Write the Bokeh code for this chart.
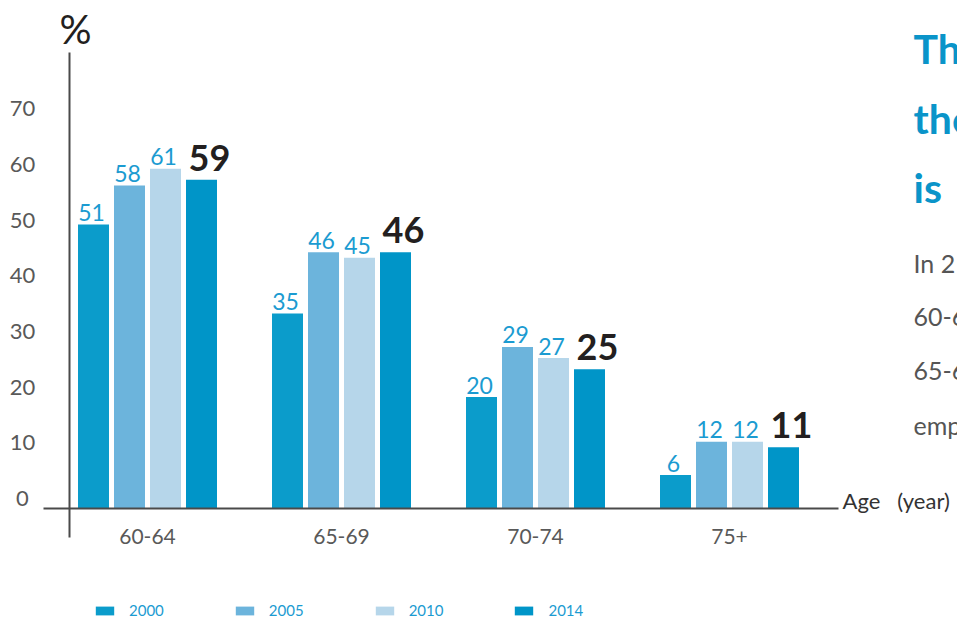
from bokeh.plotting import figure
from bokeh.models import Range1d, Legend, LegendItem
from bokeh.core.properties import value
from bokeh.embed import file_html
from bokeh.resources import INLINE

# ---- data ----
age_groups = ["60-64", "65-69", "70-74", "75+"]
years = ["2000", "2005", "2010", "2014"]
v2000 = [51, 35, 20, 6]
v2005 = [58, 46, 29, 12]
v2010 = [61, 45, 27, 12]
v2014 = [59, 46, 25, 11]
y_ticks = [0, 10, 20, 30, 40, 50, 60, 70]
heading_lines = ["The", "the", "is"]
body_lines = ["In 2", "60-6", "65-6", "emp"]
x_title = "Age\u00a0\u00a0\u00a0(year)"
y_title = "%"

# ---- styles ----
colors = ["#0b9ccb", "#6cb4dc", "#b6d6ea", "#0095c8"]
label_blue = "#1b9bd1"
dark = "#231f20"
gray = "#595959"
axis_col = "#4a4a4a"
FONT = value("Lato")

W, H = 957, 619
PX_X = 194.0          # pixels per age group
PX_Y = 5.57           # pixels per percentage point
X0_PX, Y0_PX = 147, 508   # pixel position of first group centre / zero line
x_start = -X0_PX / PX_X
x_end = x_start + W / PX_X
y_end = Y0_PX / PX_Y
y_start = y_end - H / PX_Y

p = figure(width=W, height=H, x_range=Range1d(x_start, x_end),
           y_range=Range1d(y_start, y_end), output_backend="svg",
           toolbar_location=None, min_border=0, outline_line_color=None,
           x_axis_location=None, y_axis_location=None)
p.grid.grid_line_color = None
p.background_fill_color = "white"
p.border_fill_color = "white"

pitch = 36 / PX_X
bw = 31 / PX_X
series = [v2000, v2005, v2010, v2014]
renderers = []
for i, (vals, col) in enumerate(zip(series, colors)):
    off = (i - 1.5) * pitch
    xs = [g + off for g in range(len(age_groups))]
    r = p.vbar(x=xs, top=vals, width=bw, bottom=0, fill_color=col, line_color=None)
    renderers.append(r)
    if i < 3:
        p.text(x=xs, y=vals, text=[str(v) for v in vals], text_align="center",
               text_baseline="middle", x_offset=-2, y_offset=-12,
               text_font=FONT, text_font_size="23px", text_color=label_blue)
    else:
        p.text(x=xs, y=vals, text=[str(v) for v in vals], text_align="center",
               text_baseline="middle", x_offset=8, y_offset=-22,
               text_font=FONT, text_font_style="bold", text_font_size="36px",
               text_color=dark)

# axes lines
axis_x = (69 - X0_PX) / PX_X
x_axis_left = (43 - X0_PX) / PX_X
x_axis_right = (838 - X0_PX) / PX_X
y_axis_top = (Y0_PX - 52) / PX_Y
y_axis_bottom = (Y0_PX - 537) / PX_Y
p.segment(x0=[x_axis_left], y0=[0], x1=[x_axis_right], y1=[0],
          line_color=axis_col, line_width=2)
p.segment(x0=[axis_x], y0=[y_axis_bottom], x1=[axis_x], y1=[y_axis_top],
          line_color=axis_col, line_width=2)

# y tick labels
p.text(x=[axis_x] * len(y_ticks), y=y_ticks, text=[str(t) for t in y_ticks],
       x_offset=-47, y_offset=-10, text_align="center", text_baseline="middle",
       text_font=FONT, text_font_size="22px", text_color=gray)
# category labels
p.text(x=list(range(len(age_groups))), y=[0] * len(age_groups), text=age_groups,
       y_offset=28, text_align="center", text_baseline="middle",
       text_font=FONT, text_font_size="21px", text_color=gray)
# axis titles
p.text(x=[axis_x], y=[y_axis_top], text=[y_title], x_offset=-10, y_offset=-24,
       text_align="left", text_baseline="middle", text_font=FONT,
       text_font_size="40px", text_color=dark)
p.text(x=[x_axis_right], y=[0], text=[x_title], x_offset=4, y_offset=-8,
       text_align="left", text_baseline="middle", text_font=FONT,
       text_font_size="22px", text_color="#333333")

# side text (cut off by the page edge, as in the original)
side_x = (913 - X0_PX) / PX_X
p.text(x=[side_x] * 3, y=[y_end] * 3, text=heading_lines, y_offset=[48, 118, 187],
       text_align="left", text_baseline="middle", text_font=FONT,
       text_font_style="bold", text_font_size="41px", text_color="#0a94c9")
p.text(x=[side_x] * 4, y=[y_end] * 4, text=body_lines, y_offset=[262, 316, 370, 424],
       text_align="left", text_baseline="middle", text_font=FONT,
       text_font_size="25px", text_color="#555555")

legend = Legend(items=[LegendItem(label=y, renderers=[r]) for y, r in zip(years, renderers)],
                orientation="horizontal", location=(93, 0), glyph_width=23,
                glyph_height=11, label_standoff=13, spacing=69, padding=0, margin=0,
                border_line_color=None, background_fill_alpha=0,
                label_text_font_size="15px", label_text_color=label_blue,
                label_text_font="Lato", label_height=14)
p.add_layout(legend)

open("out.html", "w").write(file_html(p, INLINE))
